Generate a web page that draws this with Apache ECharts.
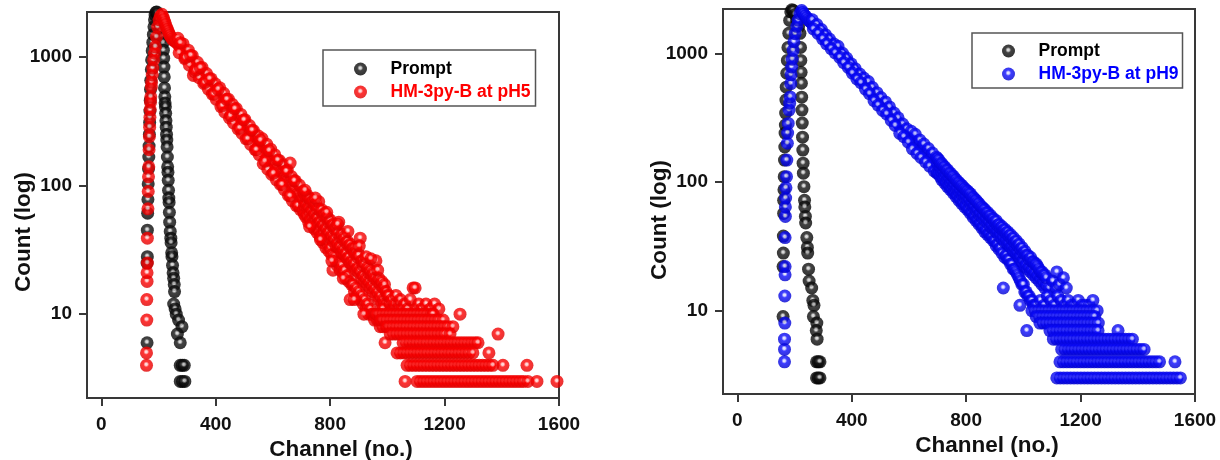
<!DOCTYPE html>
<html>
<head>
<meta charset="utf-8">
<script src="https://cdn.jsdelivr.net/npm/echarts@6/dist/echarts.min.js"></script>
<style>
  html, body { margin: 0; padding: 0; background: #fff; }
  #chart { width: 1220px; height: 460px; }
</style>
</head>
<body>
<div id="chart"></div>
<script>
// Axis ticks
const channelTicks = [0, 400, 800, 1200, 1600];
const countTicks = [10, 100, 1000];

// Series names
const promptName = 'Prompt';
const samplePH5 = 'HM-3py-B at pH5';
const samplePH9 = 'HM-3py-B at pH9';

// Instrument response (prompt), pH 5 panel: [channel, count]
const promptA = [
  [160,6],[160,25],[161,28],[161,45],[162,61],[163,78],[164,103],[165,135],[166,167],[167,203],
  [168,250],[169,310],[170,380],[171,460],[172,560],[173,660],[175,800],[176,950],[178,1120],
  [180,1300],[182,1500],[184,1720],[186,1950],[188,2120],[191,2230],[194,2240],
  [197,2150],[201,1980],[205,1790],[209,1600],[213,1430],[216,1290],[217,1130],[218,980],[219,835],
  [220,700],[221,575],[222,490],[223,440],[224,410],[225,365],[226,320],[227,285],[228,250],
  [229,226],[230,200],[231,167],[232,140],[233,127],[234,110],[235,92],[236,80],[237,74],[238,62],
  [239,52],[241,44],[243,39],[244,36],[246,30],[247,28],[249,24],[251,21],[253,19],[255,17],
  [256,15],[253,12],[258,11],[262,10],[270,9],[282,8],[266,7],[276,6],
  [276,4],[283,4],[290,4],[276,3],[284,3],[292,3]
];

// Fluorescence decay at pH 5: [channel, count]
const decayA = [
  [158,4],[158,5],[159,9],[159,13],[160,18],[160,21],[161,25],[161,39],[163,66],[164,90],[165,117],
  [166,140],[167,190],[168,240],[169,285],[170,340],[171,390],[172,445],[173,490],[175,585],[176,640],
  [178,725],[180,820],[183,950],[186,1070],[189,1200],[193,1430],[197,1710],[202,1950],[207,2080],[212,2150],
  [216,2040],[219,1950],[222,1860],[225,1780],[228,1700],[231,1640],[234,1580],[237,1520],[240,1470],
  [244,1420],[248,1380],[252,1350],[256,1330],
  [260,1340],[265,1290],[270,1240],[275,1215],[280,1170],[285,1140],[290,1110],[295,1060],[300,1040],
  [305,1000],[310,975],[315,930],[320,905],[322,720],[325,880],[330,850],[335,815],[340,800],[345,770],
  [350,745],[355,725],[360,700],[365,675],[370,660],[375,630],[380,615],[385,600],[390,575],[395,560],
  [400,545],[405,520],[410,505],[415,495],[420,478],[425,460],[430,445],[435,430],[440,420],[445,400],
  [450,392],[455,380],[460,365],[465,355],[470,348],[475,332],[480,322],[485,315],[490,305],[495,292],
  [500,285],[505,275],[510,266],[515,258],[520,250],[525,240],[530,235],[535,226],[540,220],[545,212],
  [550,207],[555,198],[560,192],[565,186],[570,182],[575,175],[580,169],[585,164],[590,160],[595,153],
  [600,148],[605,146],[610,139],[615,136],[620,130],[625,127],[630,123],[635,118],[640,116],[645,111],
  [650,108],[655,104],[660,100],[665,98],[670,94],[675,92],[680,88],[685,86],[690,84],[695,80],[700,78],
  [268,1400],[286,1265],[304,1130],[318,1025],[336,910],[352,830],[368,745],[384,678],[398,620],[414,577],
  [428,522],[444,470],[458,429],[472,398],[488,358],[502,326],[518,293],[532,268],[548,244],[562,232],
  [578,210],[592,192],[606,174],[622,157],[636,145],[650,132],[660,150],[664,118],[678,109],[692,101],
  [272,1080],[292,970],[308,865],[326,768],[342,690],[358,623],[374,563],[388,515],[402,469],[418,412],
  [432,372],[448,336],[462,307],[478,276],[492,255],[506,231],[522,209],[538,190],[552,174],[566,148],
  [582,134],[596,122],[612,111],[626,102],[640,93],[654,84],[668,76],[682,70],[696,65],
  [276,1290],[294,990],[312,1030],[330,790],[346,826],[362,635],[378,678],[394,514],[408,561],[424,419],
  [438,469],[452,350],[466,396],[484,281],[498,324],[512,231],[526,270],[542,190],[556,225],[572,155],
  [586,187],[602,125],[616,158],[632,102],[646,129],[660,83],[674,109],[688,70],
  [705,79],[705,90],[705,64],[710,70],[710,86],[710,60],[715,73],[715,82],[715,57],[720,66],[720,84],[720,59],
  [725,69],[725,80],[725,52],[730,62],[730,79],[730,55],[735,65],[735,74],[735,50],[740,58],[740,76],[740,52],
  [745,61],[745,71],[745,46],[750,55],[750,72],[750,49],[755,57],[755,66],[755,43],[760,51],[760,75],[760,45],
  [765,53],[765,64],[765,40],[770,48],[770,65],[770,42],[775,50],[775,59],[775,36],[780,45],[780,61],[780,39],
  [785,47],[785,56],[785,33],[790,42],[790,57],[790,36],[795,44],[795,52],[795,31],[800,39],[800,54],[800,33],
  [805,41],[805,49],[805,29],[810,37],[810,50],[810,22],[815,39],[815,46],[815,28],[820,34],[820,48],[820,26],
  [825,36],[825,43],[825,24],[830,33],[830,52],[830,25],[835,34],[835,40],[835,22],[840,30],[840,42],[840,24],
  [845,32],[845,38],[845,21],[850,29],[850,40],[850,22],[855,30],[855,36],[855,19],[860,27],[860,37],[860,20],
  [865,28],[865,34],[865,18],[870,25],[870,35],[870,13],[875,26],[875,32],[875,17],[880,24],[880,33],[880,17],
  [885,25],[885,30],[885,15],[890,22],[890,33],[890,16],[895,23],[895,28],[895,14],[900,21],[900,29],[900,15],
  [905,22],[905,39],[905,13],[910,19],[910,26],[910,14],[915,20],[915,24],[915,12],[920,18],[920,25],[920,13],
  [925,19],[925,28],[925,11],[930,17],[930,23],[930,12],[935,18],[935,21],[935,10],[940,16],[940,22],[940,11],
  [945,17],[945,20],[945,10],[950,15],[950,21],[950,10],[955,16],[955,19],[955,9],[960,14],[960,26],[960,10],
  [965,15],[965,18],[965,9],[970,13],[970,19],[970,9],[975,14],[975,17],[975,8],[980,12],[980,18],[980,9],
  [985,13],[985,16],[985,8],[990,12],[990,17],[992,6],[995,11],[995,15],[995,9],[1000,12],[1000,14],[1000,8],
  [712,92],[728,48],[748,80],[766,38],[788,62],[806,26],[826,50],[846,19],[862,44],[884,13],[902,34],
  [918,10],[942,27],[966,22],[984,11],
  [1005,14],[1010,12],[1015,13],[1020,11],[1025,12],[1030,14],[1035,11],[1040,12],[1045,13],[1050,11],
  [1060,12],[1070,11],[1080,13],[1090,16],[1097,16],[1100,11],[1110,12],[1120,11],[1135,12],[1150,11],
  [1165,12],[1180,11],
  [962,10],[974,10],[986,10],[998,10],[1010,10],[1022,10],[1034,10],[1046,10],[1058,10],[1070,10],[1082,10],
  [1094,10],[1106,10],[1118,10],[1130,10],[1142,10],[1154,10],[1160,10],[1254,10],
  [976,9],[988,9],[1000,9],[1012,9],[1024,9],[1036,9],[1048,9],[1060,9],[1072,9],[1084,9],[1096,9],
  [1108,9],[1120,9],[1132,9],[1144,9],[1156,9],[1168,9],[1180,9],[1195,9],
  [997,8],[1009,8],[1021,8],[1033,8],[1045,8],[1057,8],[1069,8],[1081,8],[1093,8],[1105,8],[1117,8],
  [1129,8],[1141,8],[1153,8],[1165,8],[1177,8],[1189,8],[1201,8],[1213,8],[1229,8],
  [1010,7],[1022,7],[1034,7],[1046,7],[1058,7],[1070,7],[1082,7],[1094,7],[1106,7],[1118,7],[1130,7],
  [1142,7],[1154,7],[1166,7],[1178,7],[1190,7],[1202,7],[1219,7],[1387,7],
  [1055,6],[1067,6],[1079,6],[1091,6],[1103,6],[1115,6],[1127,6],[1139,6],[1151,6],[1163,6],[1175,6],
  [1187,6],[1199,6],[1211,6],[1223,6],[1235,6],[1247,6],[1259,6],[1271,6],[1283,6],[1295,6],[1307,6],[1317,6],
  [1034,5],[1046,5],[1058,5],[1070,5],[1082,5],[1094,5],[1106,5],[1118,5],[1130,5],[1142,5],[1154,5],
  [1166,5],[1178,5],[1190,5],[1202,5],[1214,5],[1226,5],[1238,5],[1250,5],[1262,5],[1274,5],[1286,5],
  [1299,5],[1355,5],
  [1069,4],[1081,4],[1093,4],[1105,4],[1117,4],[1129,4],[1141,4],[1153,4],[1165,4],[1177,4],[1189,4],
  [1201,4],[1213,4],[1225,4],[1237,4],[1249,4],[1261,4],[1273,4],[1285,4],[1297,4],[1309,4],[1321,4],
  [1333,4],[1345,4],[1357,4],[1369,4],[1404,4],[1488,4],
  [1062,3],[1104,3],[1116,3],[1128,3],[1140,3],[1152,3],[1164,3],[1176,3],[1188,3],[1200,3],[1212,3],
  [1224,3],[1236,3],[1248,3],[1260,3],[1272,3],[1284,3],[1296,3],[1308,3],[1320,3],[1332,3],[1344,3],
  [1356,3],[1368,3],[1380,3],[1392,3],[1404,3],[1416,3],[1428,3],[1440,3],[1452,3],[1464,3],[1476,3],
  [1491,3],[1523,3],[1593,3]
];

// Instrument response (prompt), pH 9 panel: [channel, count]
const promptB = [
  [160,9],[160,22],[161,28],[161,38],[162,57],[162,72],[163,87],[164,110],[165,148],[166,187],
  [167,240],[168,277],[169,343],[170,433],[171,546],[173,700],[175,880],[177,1110],[180,1430],
  [183,1800],[187,2100],[191,2180],
  [196,2150],[202,2000],[208,1800],[214,1600],[219,1430],[221,1110],[222,880],[223,712],[224,585],
  [225,456],[226,362],[227,287],[228,223],[229,177],[230,140],[231,117],[233,92],[235,72],[236,64],
  [238,54],[239,48],[243,37],[245,31],[246,28],[249,21],[251,17],[260,15],[264,12],[268,11],[266,9],
  [278,8],[276,7],[279,6],[277,4],[283,4],[289,4],[277,3],[283,3],[289,3]
];

// Fluorescence decay at pH 9: [channel, count]
const decayB = [
  [165,4],[165,5],[165,6],[166,8],[166,13],[167,19],[167,22],[167,37],[168,54],[168,64],[169,75],
  [170,90],[172,110],[173,148],[175,200],[176,240],[178,285],[181,362],[183,410],[185,458],[187,582],
  [188,680],[190,783],[192,900],[195,1055],[198,1230],[202,1420],[208,1620],[213,1810],[219,2030],[225,2150],
  [229,2080],[233,2010],[238,1950],[243,1890],[248,1830],[252,1790],
  [255,1760],[260,1720],[265,1670],[270,1630],[275,1590],[280,1550],[285,1510],[290,1470],[295,1420],
  [300,1380],[305,1330],[310,1290],[315,1255],[320,1220],[325,1185],[330,1150],[335,1120],[340,1095],
  [345,1070],[350,1050],[355,1010],[360,980],[365,950],[370,920],[375,900],[380,875],[385,850],[390,820],
  [395,790],[400,765],[405,740],[410,715],[415,690],[420,672],[425,655],[430,640],[435,620],[440,605],
  [445,590],[450,575],[455,560],[460,540],[465,520],[470,500],[475,485],[480,468],[485,455],[490,445],
  [495,432],[500,420],[505,405],[510,395],[515,385],[520,378],[525,368],[530,355],[535,340],[540,330],
  [545,318],[550,308],[555,300],[560,290],[565,280],[570,270],[575,260],[580,252],[585,245],[590,238],
  [595,230],[600,225],[605,218],[610,212],[615,207],[620,202],[625,198],[630,192],[635,187],[640,182],
  [645,177],[650,173],[655,169],[660,165],[665,161],[670,156],[675,152],[680,148],[685,144],[690,140],
  [695,137],
  [262,1820],[278,1675],[294,1530],[308,1395],[322,1290],[338,1180],[352,1135],[368,1000],[382,920],
  [398,830],[412,760],[428,690],[442,642],[458,603],[472,543],[488,494],[502,453],[518,419],[532,383],
  [548,343],[562,315],[578,282],[592,259],[608,248],[622,235],[638,212],[652,197],[668,182],[682,168],[696,156],
  [266,1545],[282,1430],[298,1297],[312,1185],[328,1088],[342,1009],[358,930],[372,846],[388,777],
  [402,702],[418,632],[432,591],[448,527],[462,486],[478,428],[492,396],[508,360],[522,338],[538,301],
  [552,275],[568,239],[582,225],[598,204],[612,181],[628,167],[642,155],[658,143],[672,133],[688,122],[698,117],
  [700,138],[700,152],[700,118],[705,127],[705,148],[705,116],[710,130],[710,140],[710,110],
  [715,119],[715,139],[715,104],[720,123],[720,133],[720,107],[725,112],[725,131],[725,98],
  [730,116],[730,125],[730,100],[735,106],[735,124],[735,92],[740,109],[740,118],[740,95],
  [745,100],[745,117],[745,87],[750,103],[750,112],[750,89],[755,94],[755,111],[755,82],
  [760,97],[760,106],[760,84],[765,88],[765,104],[765,77],[770,91],[770,100],[770,79],
  [775,84],[775,99],[775,72],[780,87],[780,95],[780,74],[785,80],[785,94],[785,68],
  [790,83],[790,90],[790,70],[795,76],[795,89],[795,64],[800,79],[800,86],[800,66],
  [805,72],[805,85],[805,61],[810,75],[810,82],[810,62],[815,68],[815,81],[815,57],
  [820,70],[820,77],[820,58],[825,64],[825,76],[825,53],[830,66],[830,73],[830,55],
  [835,60],[835,72],[835,50],[840,62],[840,69],[840,51],[845,56],[845,68],[845,47],
  [850,58],[850,65],[850,48],[855,53],[855,64],[855,44],[860,56],[860,62],[860,45],
  [865,50],[865,61],[865,41],[870,53],[870,58],[870,43],[875,48],[875,58],[875,39],
  [880,50],[880,55],[880,40],[885,45],[885,55],[885,37],[890,47],[890,52],[890,38],
  [895,43],[895,52],[895,35],[900,44],[900,49],[900,35],[905,41],[905,50],[905,32],
  [910,42],[910,46],[910,33],[915,38],[915,47],[915,30],[920,40],[920,44],[920,31],
  [925,36],[925,45],[925,28],[930,38],[930,42],[930,15],[935,34],[935,43],[935,26],
  [940,36],[940,40],[940,27],[945,33],[945,41],[945,25],[950,34],[950,38],[950,25],
  [955,31],[955,39],[955,23],[960,32],[960,36],[960,23],[965,29],[965,37],[965,21],
  [970,31],[970,34],[970,21],[975,28],[975,35],[975,20],[980,29],[980,32],[980,19],
  [985,26],[985,33],[985,18],[988,11],[990,27],[990,30],[990,17],[995,24],[995,31],[995,16],
  [1000,25],[1000,28],[1000,16],[1005,22],[1005,29],[1005,14],[1010,23],[1010,27],[1010,14],[1012,7],
  [1015,21],[1015,27],[1015,13],[1020,22],[1020,25],[1020,13],[1025,20],[1025,26],[1025,12],
  [1030,21],[1030,24],[1030,12],[1035,19],[1035,24],[1035,11],[1040,20],[1040,23],[1040,11],
  [1045,18],[1045,23],[1045,11],[1050,19],[1050,22],[1055,17],[1055,21],[1060,18],[1060,20],
  [1065,16],[1065,20],[1070,17],[1070,19],[1075,15],[1075,19],[1080,16],[1080,18],
  [1090,15],[1102,17],[1114,15],[1117,20],[1126,16],[1140,18],[1150,15],
  [1060,12],[1072,11],[1084,13],[1096,12],[1108,11],[1120,13],[1132,12],[1144,11],[1156,12],
  [1168,11],[1180,11],[1192,12],[1204,11],[1216,11],[1230,11],[1243,12],
  [1030,10],[1042,10],[1054,10],[1066,10],[1078,10],[1090,10],[1102,10],[1114,10],[1126,10],[1138,10],
  [1150,10],[1162,10],[1174,10],[1186,10],[1198,10],[1210,10],[1222,10],[1234,10],[1246,10],[1258,10],
  [1045,9],[1057,9],[1069,9],[1081,9],[1093,9],[1105,9],[1117,9],[1129,9],[1141,9],[1153,9],[1165,9],
  [1177,9],[1189,9],[1201,9],[1213,9],[1225,9],[1237,9],[1249,9],
  [1058,8],[1070,8],[1082,8],[1094,8],[1106,8],[1118,8],[1130,8],[1142,8],[1154,8],[1166,8],[1178,8],
  [1190,8],[1202,8],[1214,8],[1226,8],[1238,8],[1250,8],[1262,8],
  [1093,7],[1105,7],[1117,7],[1129,7],[1141,7],[1153,7],[1165,7],[1177,7],[1189,7],[1201,7],[1213,7],
  [1225,7],[1237,7],[1249,7],[1261,7],[1331,7],
  [1105,6],[1117,6],[1129,6],[1141,6],[1153,6],[1165,6],[1177,6],[1189,6],[1201,6],[1213,6],[1225,6],
  [1237,6],[1249,6],[1261,6],[1273,6],[1285,6],[1297,6],[1309,6],[1321,6],[1333,6],[1345,6],[1357,6],
  [1369,6],[1381,6],
  [1134,5],[1146,5],[1158,5],[1170,5],[1182,5],[1194,5],[1206,5],[1218,5],[1230,5],[1242,5],[1254,5],
  [1266,5],[1278,5],[1290,5],[1302,5],[1314,5],[1326,5],[1338,5],[1350,5],[1362,5],[1374,5],[1386,5],
  [1398,5],[1410,5],[1422,5],
  [1128,4],[1140,4],[1152,4],[1164,4],[1176,4],[1188,4],[1200,4],[1212,4],[1224,4],[1236,4],[1248,4],
  [1260,4],[1272,4],[1284,4],[1296,4],[1308,4],[1320,4],[1332,4],[1344,4],[1356,4],[1368,4],[1380,4],
  [1392,4],[1404,4],[1416,4],[1428,4],[1440,4],[1452,4],[1464,4],[1476,4],[1530,4],
  [1117,3],[1129,3],[1141,3],[1153,3],[1165,3],[1177,3],[1189,3],[1201,3],[1213,3],[1225,3],[1237,3],
  [1249,3],[1261,3],[1273,3],[1285,3],[1297,3],[1309,3],[1321,3],[1333,3],[1345,3],[1357,3],[1369,3],
  [1381,3],[1393,3],[1405,3],[1417,3],[1429,3],[1441,3],[1453,3],[1465,3],[1477,3],[1489,3],[1501,3],
  [1513,3],[1525,3],[1537,3],[1549,3]
];

const FONT = 'Arial, "Liberation Sans", Helvetica, sans-serif';
const AXIS_COLOR = '#383838';
const plainNumber = (v) => String(Math.round(v));

// Shaded ball marker: small bright glint near the centre, darker rim
function ball(glint, base, rim) {
  return {
    type: 'radial', x: 0.48, y: 0.42, r: 0.58,
    colorStops: [
      { offset: 0, color: glint },
      { offset: 0.14, color: glint },
      { offset: 0.38, color: base },
      { offset: 1, color: rim }
    ]
  };
}
const blackBall = ball('#cfcfcf', '#141414', '#000000');
const redBall = ball('#ffd0d0', '#ff0000', '#dc0000');
const blueBall = ball('#dcdcff', '#0c0cff', '#0000cc');

function xAxisFor(gridIndex, shift) {
  return {
    type: 'value', gridIndex, min: -50, max: 1600,
    name: 'Channel (no.)', nameLocation: 'middle', nameGap: 40, nameMoveOverlap: false,
    nameTextStyle: { fontFamily: FONT, fontSize: 22.5, fontWeight: 'bold', color: '#111', padding: [0, 0, 0, shift] },
    axisLine: { show: true, onZero: false, lineStyle: { color: AXIS_COLOR, width: 2 } },
    axisTick: { show: true, inside: false, length: 8, customValues: channelTicks, lineStyle: { color: AXIS_COLOR, width: 2 } },
    axisLabel: { customValues: channelTicks, formatter: plainNumber, margin: 17, fontFamily: FONT, fontSize: 19, fontWeight: 'bold', color: '#111' },
    splitLine: { show: false }
  };
}
function yAxisFor(gridIndex, min, max, drop) {
  return {
    type: 'log', logBase: 10, gridIndex, min, max,
    name: 'Count (log)', nameLocation: 'middle', nameGap: 52, nameMoveOverlap: false,
    nameTextStyle: { fontFamily: FONT, fontSize: 22.5, fontWeight: 'bold', color: '#111', padding: [0, drop, 0, 0] },
    axisLine: { show: true, onZero: false, lineStyle: { color: AXIS_COLOR, width: 2 } },
    axisTick: { show: true, inside: false, length: 8, customValues: countTicks, lineStyle: { color: AXIS_COLOR, width: 2 } },
    axisLabel: { customValues: countTicks, formatter: plainNumber, margin: 15, fontFamily: FONT, fontSize: 19, fontWeight: 'bold', color: '#111' },
    splitLine: { show: false },
    minorTick: { show: false }
  };
}
function legendFor(left, top, padding, sample, color) {
  return {
    left, top, orient: 'vertical',
    data: [
      { name: promptName, textStyle: { color: '#000' } },
      { name: sample, textStyle: { color } }
    ],
    icon: 'circle', itemWidth: 50, itemHeight: 13, itemGap: 5,
    padding,
    borderColor: '#555', borderWidth: 1.5, backgroundColor: '#fff',
    selectedMode: false,
    textStyle: { fontFamily: FONT, fontSize: 17.5, fontWeight: 'bold', lineHeight: 17 }
  };
}
function scatter(name, data, idx, fill) {
  return {
    type: 'scatter', name, data, xAxisIndex: idx, yAxisIndex: idx,
    symbol: 'circle', symbolSize: 13,
    itemStyle: { color: fill },
    emphasis: { disabled: true },
    clip: true
  };
}

const chart = echarts.init(document.getElementById('chart'), null, { renderer: 'canvas' });
chart.setOption({
  animation: false,
  backgroundColor: '#fff',
  grid: [
    { left: 87, top: 12, width: 472, height: 386, outerBoundsMode: 'none', containLabel: false,
      show: true, borderColor: AXIS_COLOR, borderWidth: 2, backgroundColor: 'transparent' },
    { left: 723, top: 9, width: 472, height: 385, outerBoundsMode: 'none', containLabel: false,
      show: true, borderColor: AXIS_COLOR, borderWidth: 2, backgroundColor: 'transparent' }
  ],
  xAxis: [xAxisFor(0, 36), xAxisFor(1, 56)],
  yAxis: [yAxisFor(0, 2.23, 2240, 54), yAxisFor(1, 2.25, 2210, 37)],
  legend: [
    legendFor(323, 50, [10, 5, 5, 31], samplePH5, '#ff0000'),
    legendFor(972, 33, [9, 4, 5, 30], samplePH9, '#0000ff')
  ],
  series: [
    scatter(promptName, promptA, 0, blackBall),
    scatter(samplePH5, decayA, 0, redBall),
    scatter(promptName, promptB, 1, blackBall),
    scatter(samplePH9, decayB, 1, blueBall)
  ]
});
</script>
</body>
</html>
